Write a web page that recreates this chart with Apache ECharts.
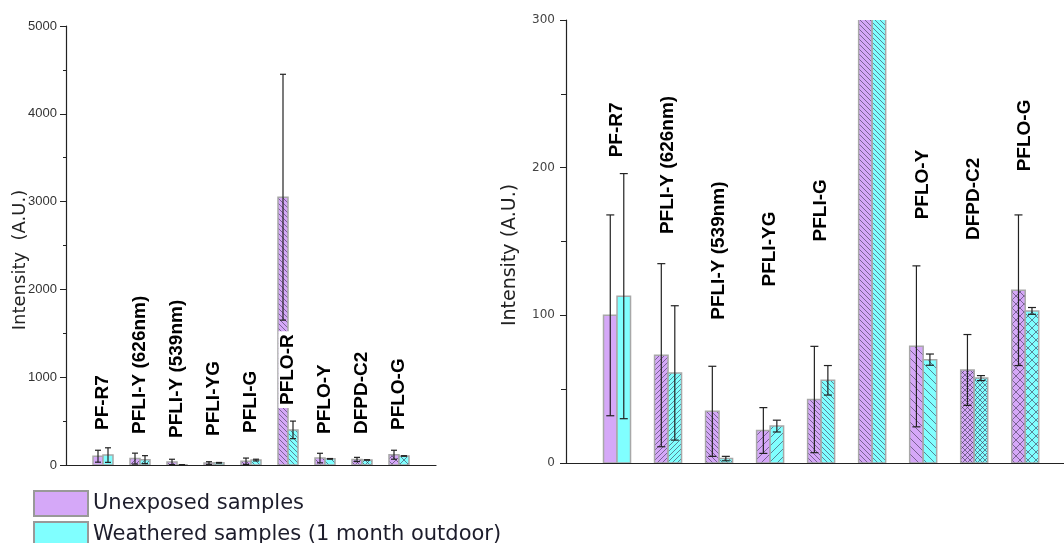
<!DOCTYPE html>
<html><head><meta charset="utf-8">
<script src="https://cdn.jsdelivr.net/npm/echarts@6/dist/echarts.min.js"></script>
<style>html,body{margin:0;padding:0;background:#fff}#c{width:1064px;height:543px}</style>
</head><body><div id="c"></div>
<script>
// ---------------- data ----------------
const categories = ['PF-R7','PFLI-Y (626nm)','PFLI-Y (539nm)','PFLI-YG','PFLI-G','PFLO-R','PFLO-Y','DFPD-C2','PFLO-G'];
const seriesNames = ['Unexposed samples','Weathered samples (1 month outdoor)'];
const unexposed    = [100, 73, 35, 22, 43, 3050, 79, 63, 117];
const unexposedErr = [68, 62, 30.5, 15.5, 36, 1400, 54.5, 24, 51];
const weathered    = [113, 61, 3, 25, 56, 400, 70, 57.5, 103];
const weatheredErr = [83, 45.5, 1.5, 4, 10, 100, 3.8, 1.7, 2.3];
const leftYTicks  = [0, 1000, 2000, 3000, 4000, 5000];
const rightYTicks = [0, 100, 200, 300];

// ---------------- layout / style ----------------
// label anchor heights (in axis units) for the rotated sample names
const leftLabelAt  = [364, 319, 273, 296, 330, 649, 319, 319, 364];
const rightLabelAt = [207, 155, 97, 119.5, 150, null, 165, 151, 197.5];
const hatch = ['none','fwd','back','fwdWide','back','back','backWide','cross','crossWide'];
const colors = ['#D5A8F8', '#80FFFF'];

function makePattern(base, kind){
  const s = kind.endsWith('Wide') ? 8 : 5;
  const c = document.createElement('canvas'); c.width = s; c.height = s;
  const g = c.getContext('2d');
  g.fillStyle = base; g.fillRect(0,0,s,s);
  if (kind !== 'none') {
    g.strokeStyle = 'rgba(60,50,80,0.75)'; g.lineWidth = 0.8;
    const fwd = () => { g.beginPath(); g.moveTo(-1,s+1); g.lineTo(s+1,-1); g.moveTo(-1,1); g.lineTo(1,-1); g.moveTo(s-1,s+1); g.lineTo(s+1,s-1); g.stroke(); };
    const back = () => { g.beginPath(); g.moveTo(-1,-1); g.lineTo(s+1,s+1); g.moveTo(s-1,-1); g.lineTo(s+1,1); g.moveTo(-1,s-1); g.lineTo(1,s+1); g.stroke(); };
    if (kind.startsWith('fwd')) fwd();
    else if (kind.startsWith('back')) back();
    else { fwd(); back(); }
  }
  return { image: c, repeat: 'repeat' };
}
const patterns = colors.map(col => hatch.map(h => makePattern(col, h)));

function barSeries(si, gridIdx, vals, errs, bw, cap){
  const side = si === 0 ? -1 : 1;
  return {
    type: 'custom', name: seriesNames[si], xAxisIndex: gridIdx, yAxisIndex: gridIdx,
    itemStyle: { color: colors[si] }, clip: true, z: 2,
    data: vals.map((v, i) => [i + 1, v, errs[i]]),
    encode: { x: 0, y: 1 },
    renderItem(params, api){
      const k = api.value(0), v = api.value(1), e = api.value(2);
      const cs = params.coordSys;
      const c0 = api.coord([k, 0]), c1 = api.coord([k, v]);
      const cx = c0[0] + side * bw / 2;
      const children = [];
      const r = echarts.graphic.clipRectByRect(
        { x: cx - bw / 2, y: c1[1], width: bw, height: c0[1] - c1[1] },
        { x: cs.x, y: cs.y - 1, width: cs.width, height: cs.height + 1 });
      if (r) children.push({ type: 'rect', shape: r, style: { fill: patterns[si][k - 1], stroke: '#a8a8a8', lineWidth: 1.5 } });
      const top = api.coord([k, v + e])[1], bot = api.coord([k, v - e])[1];
      const yT = Math.max(top, cs.y), yB = Math.min(bot, cs.y + cs.height);
      const ls = { stroke: '#222', lineWidth: 1.2 };
      if (yB > yT) {
        children.push({ type: 'line', shape: { x1: cx, y1: yT, x2: cx, y2: yB }, style: ls });
        if (top >= cs.y) children.push({ type: 'line', shape: { x1: cx - cap, y1: top, x2: cx + cap, y2: top }, style: ls });
        if (bot <= cs.y + cs.height) children.push({ type: 'line', shape: { x1: cx - cap, y1: bot, x2: cx + cap, y2: bot }, style: ls });
      }
      return { type: 'group', children };
    }
  };
}

function labelSeries(gridIdx, anchors){
  return {
    type: 'custom', xAxisIndex: gridIdx, yAxisIndex: gridIdx, silent: true, z: 5,
    data: anchors.map((a, i) => [i + 1, a]).filter(d => d[1] != null),
    encode: { x: 0, y: 1 },
    renderItem(params, api){
      const k = api.value(0);
      const p = api.coord([k, api.value(1)]);
      return { type: 'text', x: p[0], y: p[1], rotation: Math.PI / 2,
        style: { text: categories[k - 1], align: 'left', verticalAlign: 'middle',
          font: 'bold 19px "Liberation Sans", Arial, sans-serif', fill: '#000',
          backgroundColor: gridIdx === 0 ? '#fff' : 'transparent', padding: gridIdx === 0 ? [0, 3] : 0 } };
    }
  };
}

const chart = echarts.init(document.getElementById('c'), null, { renderer: 'canvas' });
const axisLine = { show: true, lineStyle: { color: '#222', width: 1.2 } };
const plain = v => String(v);
chart.setOption({
  animation: false,
  backgroundColor: '#fff',
  grid: [
    { left: 66, top: 26, width: 370, height: 439 },
    { left: 566, top: 20, right: 0, height: 443 }
  ],
  xAxis: [
    { type: 'value', gridIndex: 0, min: 0, max: 10, axisLine: axisLine, axisTick: { show: false }, axisLabel: { show: false }, splitLine: { show: false } },
    { type: 'value', gridIndex: 1, min: 0, max: 9.76, axisLine: axisLine, axisTick: { show: false }, axisLabel: { show: false }, splitLine: { show: false } }
  ],
  yAxis: [
    { type: 'value', gridIndex: 0, min: leftYTicks[0], max: leftYTicks[leftYTicks.length - 1], interval: leftYTicks[1] - leftYTicks[0],
      axisLine: axisLine, axisTick: { show: true, length: 6, lineStyle: { color: '#222' } },
      minorTick: { show: true, splitNumber: 2, length: 3, lineStyle: { color: '#222' } },
      axisLabel: { margin: 9, formatter: plain, fontFamily: '"Liberation Sans Narrow", "Liberation Sans", sans-serif', fontSize: 13, color: '#333' },
      splitLine: { show: false } },
    { type: 'value', gridIndex: 1, min: rightYTicks[0], max: rightYTicks[rightYTicks.length - 1], interval: rightYTicks[1] - rightYTicks[0],
      axisLine: axisLine, axisTick: { show: true, length: 6, lineStyle: { color: '#222' } },
      minorTick: { show: true, splitNumber: 2, length: 5, lineStyle: { color: '#222' } },
      axisLabel: { margin: 11, formatter: plain, fontFamily: '"DejaVu Sans", sans-serif', fontSize: 12, color: '#444' },
      splitLine: { show: false } }
  ],
  legend: {
    orient: 'vertical', left: 33, top: 490, height: 120, padding: 0, itemWidth: 54, itemHeight: 25, itemGap: 4, icon: 'rect',
    selectedMode: false, data: seriesNames,
    itemStyle: { borderColor: '#999', borderWidth: 2 },
    textStyle: { fontFamily: '"DejaVu Sans", sans-serif', fontSize: 21, lineHeight: 25, color: '#1d1d2b' }
  },
  graphic: [
    { type: 'text', x: 20, y: 260, rotation: Math.PI / 2, style: { text: 'Intensity  (A.U.)', align: 'center', verticalAlign: 'middle', font: '18px "DejaVu Sans", sans-serif', fill: '#222' } },
    { type: 'text', x: 510, y: 255, rotation: Math.PI / 2, style: { text: 'Intensity (A.U.)', align: 'center', verticalAlign: 'middle', font: '19px "DejaVu Sans", sans-serif', fill: '#222' } }
  ],
  series: [
    barSeries(0, 0, unexposed, unexposedErr, 10, 3),
    barSeries(1, 0, weathered, weatheredErr, 10, 3),
    barSeries(0, 1, unexposed, unexposedErr, 13.5, 4),
    barSeries(1, 1, weathered, weatheredErr, 13.5, 4),
    labelSeries(0, leftLabelAt),
    labelSeries(1, rightLabelAt)
  ]
});
</script></body></html>
